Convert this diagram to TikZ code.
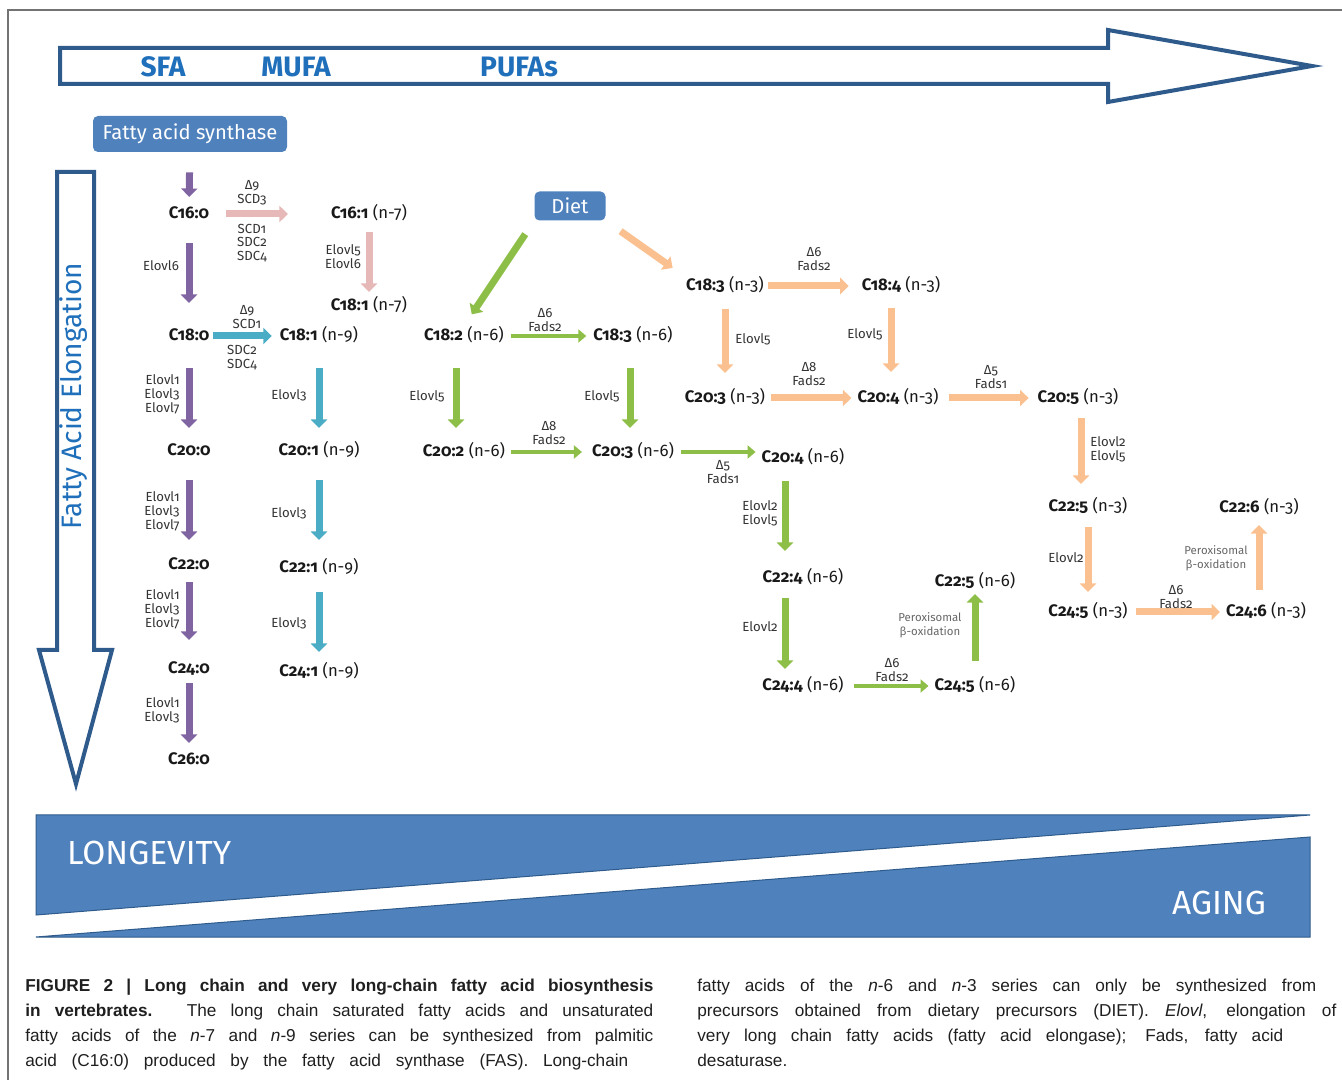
\documentclass[tikz,border=0pt]{standalone}
\usepackage{fontspec}
\setmainfont{Fira Sans}[Numbers=OldStyle]
\newfontfamily\capfont{Liberation Sans}
\usetikzlibrary{arrows.meta}

\newlength\px
\setlength\px{0.2mm}

\definecolor{boxblue}{HTML}{4F81BD}
\definecolor{edgeblue}{HTML}{2E5B8C}
\definecolor{textblue}{HTML}{1F6FBA}
\definecolor{sfacol}{HTML}{8064A2}
\definecolor{nsevencol}{HTML}{E6B9B8}
\definecolor{nninecol}{HTML}{4BACC6}
\definecolor{nsixcol}{HTML}{8DBE47}
\definecolor{nthreecol}{HTML}{FBC08F}

\tikzset{
  conv/.style={line width=1.4mm, -{Triangle[width=3.2mm,length=1.7mm]}},
  slim/.style={line width=0.95mm, -{Triangle[width=2.6mm,length=1.6mm]}},
  trim/.style 2 args={shorten <=#1\px, shorten >=#2\px},
  acid/.style={font=\fontsize{9.5}{11}\selectfont, text=black!90, inner sep=1pt,
    text height=7pt, text depth=2pt},
  enz/.style={font=\fontsize{7.5}{7.9}\selectfont, text=black!80, inner sep=0pt, align=center},
  perox/.style={font=\fontsize{6.5}{7.9}\selectfont, text=black!60, inner sep=0pt, align=center},
  srcbox/.style={fill=boxblue, rounded corners=5\px, text=white, inner sep=0pt,
    font=\fontsize{11.5}{13}\selectfont},
  band/.style={text=textblue, font=\fontsize{16}{18}\selectfont\bfseries},
  capline/.style={font=\capfont\fontsize{9.8}{14.2}\selectfont, text=black!88,
    inner sep=0pt, align=left, anchor=north west},
}

\begin{document}
\begin{tikzpicture}[x=0.2mm,y=-0.2mm]
  \useasboundingbox (0,0) rectangle (1342,1080);
  \draw[black!55, line width=0.4mm] (8,1080) -- (8,10) -- (1342,10);

  % big arrows
  \draw[edgeblue, line width=0.8mm, fill=white] (60,48) -- (1108,48) -- (1108,30)
    -- (1312,66) -- (1108,102) -- (1108,84) -- (60,84) -- cycle;
  \node[band] (sfa)  at (163,67) {SFA};
  \node[band] (mufa) at (296,67) {MUFA};
  \node[band] (pufa) at (519,67) {PUFAs};

  \draw[edgeblue, line width=0.8mm, fill=white] (57,172) -- (94,172) -- (94,650)
    -- (112,650) -- (76,784) -- (39,650) -- (57,650) -- cycle;
  \node[rotate=90, text=textblue, font=\fontsize{16}{18}\selectfont] (elong)
    at (74,396) {Fatty Acid Elongation};

  \node[srcbox, minimum width=194\px, minimum height=36\px] (fas) at (190,134) {Fatty acid synthase};
  \node[srcbox, minimum width=71\px, minimum height=29\px] (diet) at (570,206) {Diet};

  % saturated and n-7 / n-9
  \node[acid] (c160) at (189,214) {\textbf{C16:0}};
  \node[acid] (c180) at (189,336) {\textbf{C18:0}};
  \node[acid] (c200) at (189,451) {\textbf{C20:0}};
  \node[acid] (c220) at (189,565) {\textbf{C22:0}};
  \node[acid] (c240) at (189,669) {\textbf{C24:0}};
  \node[acid] (c260) at (189,760) {\textbf{C26:0}};

  \node[acid] (c161n7) at (369,214) {\textbf{C16:1} (n-7)};
  \node[acid] (c181n7) at (369,306) {\textbf{C18:1} (n-7)};
  \node[acid] (c181n9) at (319,336) {\textbf{C18:1} (n-9)};
  \node[acid] (c201n9) at (319,451) {\textbf{C20:1} (n-9)};
  \node[acid] (c221n9) at (319,568) {\textbf{C22:1} (n-9)};
  \node[acid] (c241n9) at (319,672) {\textbf{C24:1} (n-9)};

  % n-6
  \node[acid] (c182n6) at (464,336) {\textbf{C18:2} (n-6)};
  \node[acid] (c183n6) at (633,336) {\textbf{C18:3} (n-6)};
  \node[acid] (c202n6) at (464,452) {\textbf{C20:2} (n-6)};
  \node[acid] (c203n6) at (633,452) {\textbf{C20:3} (n-6)};
  \node[acid] (c204n6) at (803,458) {\textbf{C20:4} (n-6)};
  \node[acid] (c224n6) at (803,578) {\textbf{C22:4} (n-6)};
  \node[acid] (c244n6) at (803,686) {\textbf{C24:4} (n-6)};
  \node[acid] (c245n6) at (975,686) {\textbf{C24:5} (n-6)};
  \node[acid] (c225n6) at (975,582) {\textbf{C22:5} (n-6)};

  % n-3
  \node[acid] (c183n3) at (725,286) {\textbf{C18:3} (n-3)};
  \node[acid] (c184n3) at (901,286) {\textbf{C18:4} (n-3)};
  \node[acid] (c203n3) at (725,398) {\textbf{C20:3} (n-3)};
  \node[acid] (c204n3) at (898,398) {\textbf{C20:4} (n-3)};
  \node[acid] (c205n3) at (1078,398) {\textbf{C20:5} (n-3)};
  \node[acid] (c225n3) at (1088,507) {\textbf{C22:5} (n-3)};
  \node[acid] (c245n3) at (1088,612) {\textbf{C24:5} (n-3)};
  \node[acid] (c246n3) at (1266,612) {\textbf{C24:6} (n-3)};
  \node[acid] (c226n3) at (1259,508) {\textbf{C22:6} (n-3)};

  % conversions
  \draw[conv, sfacol, trim={20}{7}] (fas) -- (c160);
  \draw[conv, sfacol, trim={19}{23}] (c160) -- (c180);
  \draw[conv, sfacol, trim={22}{13}] (c180) -- (c200);
  \draw[conv, sfacol, trim={19}{15}] (c200) -- (c220);
  \draw[conv, sfacol, trim={7}{19}] (c220) -- (c240);
  \draw[conv, sfacol, trim={4}{7}] (c240) -- (c260);

  \draw[conv, nsevencol, trim={15}{41}] (c160) -- (c161n7);
  \draw[conv, nsevencol, trim={8}{4}] (c161n7) -- (c181n7);

  \draw[conv, nninecol, trim={2}{6}] (c180) -- (c181n9);
  \draw[conv, nninecol, trim={22}{13}] (c181n9) -- (c201n9);
  \draw[conv, nninecol, trim={19}{18}] (c201n9) -- (c221n9);
  \draw[conv, nninecol, trim={14}{10}] (c221n9) -- (c241n9);

  \draw[conv, nsixcol, trim={16}{14}] (diet.south west) -- (c182n6.north);
  \draw[slim, nsixcol, trim={5}{5}] (c182n6) -- (c183n6);
  \draw[conv, nsixcol, trim={22}{14}] ([xshift=-8\px]c182n6.south) -- ([xshift=-8\px]c182n6.south |- c202n6.north);
  \draw[conv, nsixcol, trim={22}{14}] ([xshift=-3\px]c183n6.south) -- ([xshift=-3\px]c183n6.south |- c203n6.north);
  \draw[slim, nsixcol, trim={4}{8}] (c202n6) -- (c203n6);
  \draw[slim, nsixcol, trim={5}{4}] (c203n6.east) -- (c203n6.east -| c204n6.west);
  \draw[conv, nsixcol, trim={13}{17}] ([xshift=-18\px]c204n6.south) -- ([xshift=-18\px]c224n6.north);
  \draw[conv, nsixcol, trim={10}{7}] ([xshift=-18\px]c224n6.south) -- ([xshift=-18\px]c244n6.north);
  \draw[slim, nsixcol, trim={8}{4}] (c244n6) -- (c245n6);
  \draw[conv, nsixcol, trim={15}{2}] (c245n6.north) -- (c245n6.north |- c225n6.south);

  \draw[conv, nthreecol, trim={18}{14}] (diet.south east) -- (c183n3.north west);
  \draw[conv, nthreecol, trim={2}{11}] (c183n3) -- (c184n3);
  \draw[conv, nthreecol, trim={13}{15}] (c183n3) -- (c203n3);
  \draw[conv, nthreecol, trim={12}{16}] ([xshift=-10\px]c184n3.south) -- ([xshift=-10\px]c184n3.south |- c204n3.north);
  \draw[conv, nthreecol, trim={4}{4}] (c203n3) -- (c204n3);
  \draw[conv, nthreecol, trim={8}{7}] (c204n3) -- (c205n3);
  \draw[conv, nthreecol, trim={10}{13}] ([xshift=3\px]c205n3.south) -- ([xshift=3\px]c205n3.south |- c225n3.north);
  \draw[conv, nthreecol, trim={10}{10}] (c225n3) -- (c245n3);
  \draw[conv, nthreecol, trim={6}{4}] (c245n3) -- (c246n3);
  \draw[conv, nthreecol, trim={12}{7}] ([xshift=-7\px]c246n3.north) -- ([xshift=-7\px]c246n3.north |- c226n3.south);

  % enzymes
  \node[enz] (l1) at (252,193) {Δ9\\SCD3};
  \node[enz] (l2) at (252,243) {SCD1\\SDC2\\SDC4};
  \node[enz, align=right] (l3) at (343,257) {Elovl5\\Elovl6};
  \node[enz] (l4) at (247,317) {Δ9\\SCD1};
  \node[enz] (l5) at (242,358) {SDC2\\SDC4};
  \node[enz] (l6) at (289,395) {Elovl3};
  \node[enz] (l7) at (289,513) {Elovl3};
  \node[enz] (l8) at (289,623) {Elovl3};
  \node[enz] (l9) at (161,266) {Elovl6};
  \node[enz, align=right] (l10) at (162,394) {Elovl1\\Elovl3\\Elovl7};
  \node[enz, align=right] (l11) at (162,511) {Elovl1\\Elovl3\\Elovl7};
  \node[enz, align=right] (l12) at (162,609) {Elovl1\\Elovl3\\Elovl7};
  \node[enz, align=right] (l13) at (162,710) {Elovl1\\Elovl3};

  \node[enz] (l14) at (545,320) {Δ6\\Fads2};
  \node[enz] (l15) at (427,396) {Elovl5};
  \node[enz] (l16) at (602,396) {Elovl5};
  \node[enz] (l17) at (549,433) {Δ8\\Fads2};
  \node[enz] (l18) at (723,472) {Δ5\\Fads1};
  \node[enz] (l19) at (760,513) {Elovl2\\Elovl5};
  \node[enz] (l20) at (760,627) {Elovl2};
  \node[enz] (l21) at (892,670) {Δ6\\Fads2};
  \node[perox] (l22) at (930,625) {Peroxisomal\\β-oxidation};

  \node[enz] (l23) at (814,259) {Δ6\\Fads2};
  \node[enz] (l24) at (753,339) {Elovl5};
  \node[enz] (l25) at (865,334) {Elovl5};
  \node[enz] (l26) at (809,374) {Δ8\\Fads2};
  \node[enz] (l27) at (991,377) {Δ5\\Fads1};
  \node[enz, align=left] (l28) at (1108,449) {Elovl2\\Elovl5};
  \node[enz] (l29) at (1066,558) {Elovl2};
  \node[enz] (l30) at (1176,597) {Δ6\\Fads2};
  \node[perox] (l31) at (1216,558) {Peroxisomal\\β-oxidation};

  % longevity band
  \fill[boxblue, draw=edgeblue, line width=0.2mm] (36,815) -- (1310,815) -- (36,915) -- cycle;
  \fill[boxblue, draw=edgeblue, line width=0.2mm] (36,937) -- (1310,837) -- (1310,937) -- cycle;
  \node[anchor=west, text=white, font=\fontsize{19}{22}\selectfont] (longev) at (61,853) {LONGEVITY};
  \node[anchor=east, text=white, font=\fontsize{19}{22}\selectfont] (aging) at (1272,903) {AGING};

  % caption
  \node[capline] (capleft) at (25,979) {%
    \makebox[125.6mm][s]{\bfseries FIGURE 2 | Long chain and very long-chain fatty acid biosynthesis}\\
    \makebox[125.6mm][s]{\textbf{in vertebrates.} The long chain saturated fatty acids and unsaturated}\\
    \makebox[125.6mm][s]{fatty acids of the \textit{n}-7 and \textit{n}-9 series can be synthesized from palmitic}\\
    \makebox[120.6mm][s]{acid (C16:0) produced by the fatty acid synthase (FAS). Long-chain}};
  \node[capline] (capright) at (697,979) {%
    \makebox[123.8mm][s]{fatty acids of the \textit{n}-6 and \textit{n}-3 series can only be synthesized from}\\
    \makebox[127.8mm][s]{precursors obtained from dietary precursors (DIET). \textit{Elovl}, elongation of}\\
    \makebox[117.2mm][s]{very long chain fatty acids (fatty acid elongase); Fads, fatty acid}\\
    desaturase.};
\end{tikzpicture}
\end{document}
